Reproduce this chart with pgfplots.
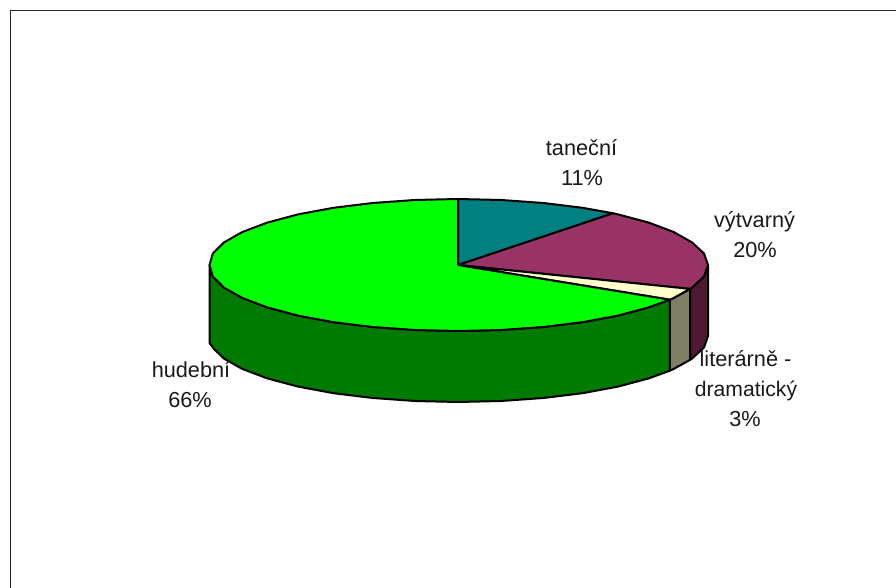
\documentclass[border=0pt]{standalone}
\usepackage{pgfplots}
\pgfplotsset{compat=1.18}
\usepackage{fontspec}
\setmainfont{Liberation Sans}
\tikzset{lbl/.style={anchor=base,font=\fontsize{21.8}{24}\selectfont,text=black!90,inner sep=0pt}}
\begin{document}
\begin{tikzpicture}[x=1bp,y=1bp]
\useasboundingbox (0,0) rectangle (896,588);
\begin{axis}[at={(0,0)},anchor=south west,scale only axis,width=896bp,height=588bp,
  xmin=0,xmax=896,ymin=0,ymax=588,y dir=reverse,hide axis,clip=false,
  every axis plot/.append style={line join=round,mark=none,line width=2bp,draw=black}]
% frame (top and left only)
\addplot[line width=1.5bp,draw=black!85] coordinates {(10.5,588) (10.5,10.5) (896,10.5)};
% side walls
\addplot[fill={rgb,255:red,77;green,25;blue,51}] coordinates {
(708,265)(704,276.5)(692,287.6)(690,288.9)
(690,359.9)(692,358.6)(704,347.5)(708,336)(708,265)};
\addplot[fill={rgb,255:red,128;green,128;blue,102}] coordinates {
(690,288.9)(673.6,298)(669.8,299.7)
(669.8,370.7)(673.6,369)(690,359.9)(690,288.9)};
\addplot[fill={rgb,255:red,0;green,122;blue,0}] coordinates {
(669.8,299.7)(648.7,307.4)(618,315.6)(582.5,322.2)(543.2,327)(501.2,330)(458,331)
(414.8,330)(372.8,327)(333.5,322.2)(298,315.6)(267.3,307.4)(242.4,298)(224,287.6)(212.8,276.5)(209.5,265)
(209.5,343)(214,349)(224,358.6)(242.4,369)(267.3,378.4)(298,386.6)(333.5,393.2)(372.8,398)(414.8,401)
(458,402)(501.2,401)(543.2,398)(582.5,393.2)(618,386.6)(648.7,378.4)(669.8,370.7)(669.8,299.7)};
% top slices
\addplot[fill={rgb,255:red,0;green,128;blue,128}] coordinates {
(458,265)(458,199)(501.2,200)(543.2,203)(582.5,207.8)(613,213.3)(458,265)};
\addplot[fill={rgb,255:red,153;green,51;blue,102}] coordinates {
(458,265)(613,213.3)(618,214.4)(648.7,222.6)(673.6,232)(692,242.4)(704,253.5)(708,265)(704,276.5)(692,287.6)(690,288.9)(458,265)};
\addplot[fill={rgb,255:red,255;green,255;blue,204}] coordinates {
(458,265)(690,288.9)(673.6,298)(669.8,299.7)(458,265)};
\addplot[fill={rgb,255:red,0;green,255;blue,0}] coordinates {
(458,265)(669.8,299.7)(648.7,307.4)(618,315.6)(582.5,322.2)(543.2,327)(501.2,330)(458,331)
(414.8,330)(372.8,327)(333.5,322.2)(298,315.6)(267.3,307.4)(242.4,298)(224,287.6)(212.8,276.5)(209.5,265)
(212.8,253.5)(224,242.4)(242.4,232)(267.3,222.6)(298,214.4)(333.5,207.8)(372.8,203)(414.8,200)(458,199)(458,265)};
% labels
\node[lbl] at (axis cs:581.5,156) {taneční};
\node[lbl] at (axis cs:582,186) {11\%};
\node[lbl] at (axis cs:754.5,228) {výtvarný};
\node[lbl] at (axis cs:755,258) {20\%};
\node[lbl] at (axis cs:745.5,367) {literárně -};
\node[lbl,font=\fontsize{21.2}{24}\selectfont] at (axis cs:746,397) {dramatický};
\node[lbl] at (axis cs:745,427) {3\%};
\node[lbl] at (axis cs:191,378) {hudební};
\node[lbl] at (axis cs:190,408) {66\%};
\end{axis}
\end{tikzpicture}
\end{document}
